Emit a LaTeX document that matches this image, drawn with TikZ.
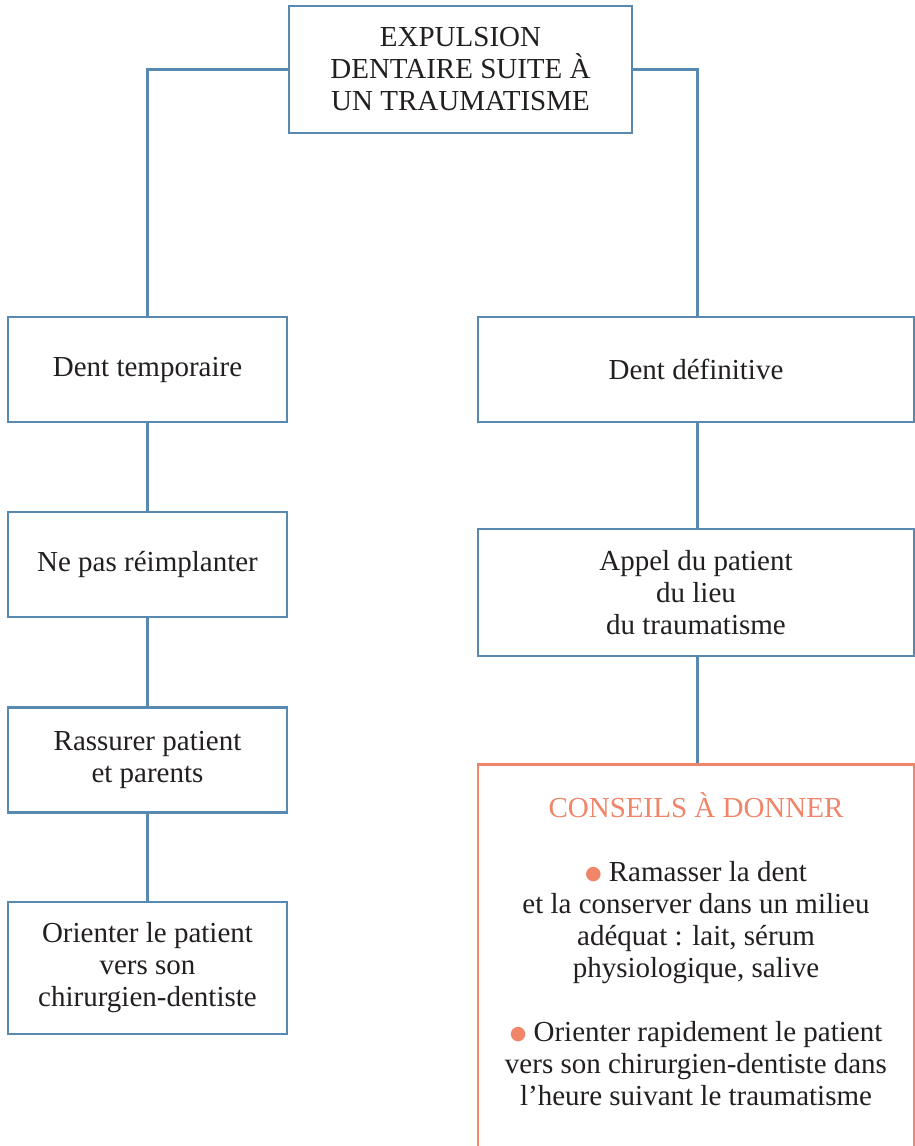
\documentclass[tikz,border=0pt]{standalone}
\usepackage{fontspec}
\setmainfont{Liberation Serif}
\newfontfamily\symbolfont{DejaVu Sans}
\usepackage{xcolor}
\usetikzlibrary{positioning}

\definecolor{boxblue}{RGB}{88,137,177}
\definecolor{conseilorange}{RGB}{240,133,106}
\definecolor{textdark}{RGB}{35,31,32}

\tikzset{
  boite/.style={draw=boxblue, line width=2.6pt, fill=white, align=center,
    text=textdark, inner sep=0pt},
  gauche/.style={boite, minimum width=279pt, minimum height=105pt},
  droite/.style={boite, minimum width=436pt},
  lien/.style={draw=boxblue, line width=2.6pt}
}
\newcommand{\puce}{{\color{conseilorange}\raisebox{1.5pt}{\symbolfont\fontsize{19}{19}\selectfont ●}}}

\begin{document}
\begin{tikzpicture}[x=1pt, y=-1pt, font=\fontsize{29}{32}\selectfont]
	\useasboundingbox (0, 0) rectangle (915, 1146);
	\clip (0, 0) rectangle (915, 1146);

	% titre
	\node[boite, minimum width=343pt, minimum height=127pt] (expulsion) at (460.5, 69.5)
		{EXPULSION\\DENTAIRE SUITE \`A\\UN TRAUMATISME};

	% dent temporaire
	\node[gauche] (temporaire) at (147.5, 369.5) {Dent temporaire};
	\node[gauche] (reimplanter) at (147.5, 564.5) {Ne pas r\'eimplanter};
	\node[gauche] (rassurer) at (147.5, 760) {Rassurer patient\\et parents};
	\node[gauche, minimum height=132pt] (orienter) at (147.5, 968) {Orienter le patient\\vers son\\chirurgien-dentiste};

	% dent definitive
	\node[droite, minimum height=105pt] (definitive) at (696, 369.5) {Dent d\'efinitive};
	\node[droite, minimum height=127pt] (appel) at (696, 592.5) {Appel du patient\\du lieu\\du traumatisme};
	\node[boite, draw=conseilorange, minimum width=436pt, minimum height=420pt, anchor=north] (conseils) at (696, 763) {};
	\node[align=center, text=textdark, anchor=north, inner sep=0pt] (conseilstexte) at (696, 792)
		{{\color{conseilorange}CONSEILS \`A DONNER}\\[32pt]
		\puce{} Ramasser la dent\\et la conserver dans un milieu\\ad\'equat : lait, s\'erum\\physiologique, salive\\[32pt]
		\puce{} Orienter rapidement le patient\\vers son chirurgien-dentiste dans\\l'heure suivant le traumatisme};

	\draw[lien] (expulsion.west) -| (temporaire.north);
	\draw[lien] (expulsion.east) -| ([xshift=1.5pt]definitive.north);
	\draw[lien] (temporaire) -- (reimplanter);
	\draw[lien] (reimplanter) -- (rassurer);
	\draw[lien] (rassurer) -- (orienter);
	\draw[lien] ([xshift=1.5pt]definitive.south) -- ([xshift=1.5pt]appel.north);
	\draw[lien] ([xshift=1.5pt]appel.south) -- ([xshift=1.5pt]conseils.north);
\end{tikzpicture}
\end{document}
